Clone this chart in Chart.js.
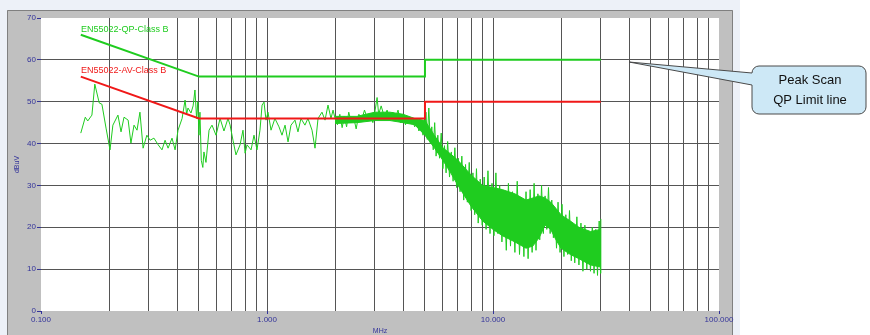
<!DOCTYPE html>
<html>
<head>
<meta charset="utf-8">
<script src="https://cdn.jsdelivr.net/npm/chart.js@4/dist/chart.umd.min.js"></script>
<style>
html, body { margin: 0; padding: 0; background: #fff; }
canvas { display: block; }
</style>
</head>
<body>
<canvas id="grafico_emi" width="870" height="335"></canvas>
<script>
// Limit lines (MHz / dBuV)
const limitFreq = [0.15, 0.5, 5, 5, 30]
const qpLimit = [66, 56, 56, 60, 60]
const avLimit = [56, 46, 46, 50, 50]

// Peak scan, 0.15 - 5 MHz
const scanFreqLow = [0.150, 0.157, 0.161, 0.168, 0.173, 0.181, 0.186, 0.194, 0.202, 0.208, 0.219, 0.226, 0.233, 0.243, 0.250, 0.258, 0.266, 0.274, 0.283, 0.294, 0.304, 0.316, 0.330, 0.343, 0.354, 0.365, 0.380, 0.392, 0.404, 0.421, 0.434, 0.441, 0.447, 0.461, 0.471, 0.480, 0.488, 0.494, 0.500, 0.505, 0.512, 0.520, 0.526, 0.537, 0.554, 0.571, 0.595, 0.620, 0.645, 0.672, 0.686, 0.707, 0.729, 0.760, 0.783, 0.800, 0.816, 0.850, 0.876, 0.903, 0.931, 0.951, 0.970, 0.990, 1.010, 1.042, 1.084, 1.130, 1.165, 1.202, 1.239, 1.277, 1.330, 1.371, 1.413, 1.472, 1.518, 1.582, 1.631, 1.682, 1.751, 1.806, 1.862, 1.919, 1.960, 2.000, 2.05, 2.1, 2.15, 2.2, 2.25, 2.3, 2.36, 2.42, 2.48, 2.55, 2.62, 2.7, 2.78, 2.86, 2.94, 3.02, 3.07, 3.12, 3.2, 3.3, 3.4, 3.5, 3.6, 3.7, 3.8, 3.9, 4.0, 4.1, 4.2, 4.3, 4.4, 4.5, 4.6, 4.7, 4.8, 4.9, 5.0]
const scanLevelLow = [42.5, 46.3, 45.4, 46.8, 54.2, 49.7, 49.4, 43.7, 38.5, 44.4, 46.8, 42.8, 46.3, 45.6, 40.1, 44.4, 43.2, 47.5, 38.9, 42.0, 40.8, 41.3, 39.7, 38.5, 40.8, 38.9, 41.3, 38.5, 43.2, 46.0, 50.4, 47.0, 48.5, 47.3, 49.0, 52.8, 46.0, 50.0, 42.0, 47.5, 36.0, 34.3, 38.0, 35.5, 43.2, 44.4, 42.0, 46.0, 43.0, 46.0, 44.5, 40.8, 37.3, 39.7, 43.2, 37.7, 39.7, 38.5, 42.0, 38.5, 43.2, 49.2, 49.9, 45.6, 47.5, 43.2, 46.0, 44.0, 42.0, 44.4, 40.4, 44.4, 45.6, 42.8, 46.0, 44.4, 46.0, 43.2, 38.9, 46.0, 47.5, 45.6, 49.2, 46.0, 48.0, 46.0, 44.5, 47, 43.8, 46.5, 44, 47.5, 45, 46.2, 43.5, 47, 45.5, 48, 46, 47.2, 45, 48.5, 51, 47, 49, 46.5, 48, 45.5, 47.5, 46, 48, 45, 47, 44.5, 46.5, 45, 46, 44, 45.5, 43, 44.5, 42, 43.5]

// Peak scan, 5 - 30 MHz (dense part, spike tops and bottoms)
const scanFreqHigh = [5.05, 5.12, 5.2, 5.28, 5.36, 5.44, 5.52, 5.6, 5.7, 5.8, 5.9, 6.0, 6.1, 6.2, 6.3, 6.42, 6.54, 6.66, 6.78, 6.9, 7.02, 7.15, 7.28, 7.42, 7.56, 7.7, 7.85, 8.0, 8.15, 8.3, 8.45, 8.6, 8.78, 8.96, 9.14, 9.32, 9.5, 9.7, 9.9, 10.1, 10.3, 10.5, 10.7, 10.95, 11.2, 11.45, 11.7, 11.95, 12.2, 12.5, 12.8, 13.1, 13.4, 13.7, 14.0, 14.3, 14.6, 14.9, 15.2, 15.5, 15.8, 16.1, 16.4, 16.7, 17.0, 17.3, 17.6, 17.9, 18.2, 18.5, 18.8, 19.1, 19.4, 19.8, 20.2, 20.6, 21.0, 21.4, 21.8, 22.2, 22.6, 23.0, 23.5, 24.0, 24.5, 25.0, 25.5, 26.0, 26.5, 27.0, 27.5, 28.0, 28.5, 29.0, 29.5, 29.9, 30.0]
const scanLevelHigh = [47.5, 41, 48.5, 40, 44, 38.5, 45, 37, 42, 36.5, 42.5, 34, 39.5, 33, 40.5, 32, 38, 31, 39, 29.5, 36.5, 28.5, 37, 26.5, 35, 26, 35.5, 24, 33, 23, 34, 21, 31.5, 20.5, 32, 19.5, 33.5, 18.5, 30.5, 18, 33, 18.5, 30, 16.5, 27.5, 14.5, 30.5, 15.5, 28.5, 14, 31, 13.5, 26, 13, 28.5, 12.5, 29, 14, 30.5, 14.5, 28, 17, 30, 18.5, 27.5, 19.5, 29.5, 18.5, 26.5, 17.5, 24, 15, 26, 14, 25.5, 13, 23, 13.5, 24, 12, 20, 11.5, 22.5, 11, 21, 9.5, 20.5, 10, 18.5, 9.5, 20, 9, 19.5, 8.5, 21.5, 9, 22]

// solid core of the dense parts
const bandFreq = [2.0, 2.5, 3.0, 3.5, 4.0, 4.5, 5, 5.5, 6, 6.5, 7, 8, 9, 10, 11, 12.5, 14, 15, 16, 17, 18, 19, 20, 22, 24, 27, 30]
const bandTop = [46.5, 46.5, 47.5, 47.5, 47, 46, 45.5, 42, 39, 37.5, 36, 32.5, 30, 29.5, 29, 28, 26.5, 27, 27.5, 27, 26, 24.5, 23, 21.5, 20, 19, 19.5]
const bandBottom = [44.8, 45, 45.5, 45.5, 45, 44.5, 42, 39, 36, 33, 30, 25, 21.5, 19.5, 18, 16.5, 15, 15.5, 17.5, 20.5, 19.5, 17, 15, 13.5, 12.5, 11, 10.5]

const xTicks = [0.1, 0.2, 0.3, 0.4, 0.5, 0.6, 0.7, 0.8, 0.9, 1, 2, 3, 4, 5, 6, 7, 8, 9, 10, 20, 30, 40, 50, 60, 70, 80, 90, 100]
const xLabels = [0.1, 1, 10, 100]

const verde = '#1fcc1f'
const vermelho = '#f01818'
const azul = '#33339a'
const grade = '#555555'

const pts = (xs, ys) => xs.map((x, i) => ({ x, y: ys[i] }))

const fundo = {
    id: 'fundo',
    beforeDraw(chart) {
        const c = chart.ctx, a = chart.chartArea
        c.save()
        c.fillStyle = '#edf1f8'
        c.fillRect(0, 0, 740, 335)
        c.fillStyle = '#c0c0c0'
        c.fillRect(7, 10, 726, 325)
        c.strokeStyle = '#808080'
        c.lineWidth = 1
        c.beginPath()
        c.moveTo(7.5, 335); c.lineTo(7.5, 10.5); c.lineTo(732.5, 10.5); c.lineTo(732.5, 335)
        c.stroke()
        c.fillStyle = '#fff'
        c.fillRect(a.left, a.top, a.right - a.left, a.bottom - a.top)
        c.restore()
    },
    afterDraw(chart) {
        const c = chart.ctx
        c.save()
        c.font = '9px Arial, "Liberation Sans"'
        c.textBaseline = 'middle'
        c.fillStyle = verde
        c.fillText('EN55022-QP-Class B', 81, 30)
        c.fillStyle = vermelho
        c.fillText('EN55022-AV-Class B', 81, 71)

        // balão
        const l = 752, r = 866, t = 66, b = 114, rad = 7
        c.beginPath()
        c.moveTo(l + rad, t)
        c.lineTo(r - rad, t)
        c.arcTo(r, t, r, t + rad, rad)
        c.lineTo(r, b - rad)
        c.arcTo(r, b, r - rad, b, rad)
        c.lineTo(l + rad, b)
        c.arcTo(l, b, l, b - rad, rad)
        c.lineTo(l, 85)
        c.lineTo(629, 62)
        c.lineTo(l, 73)
        c.lineTo(l, t + rad)
        c.arcTo(l, t, l + rad, t, rad)
        c.closePath()
        c.fillStyle = '#cde8f6'
        c.fill()
        c.strokeStyle = '#4a4a4a'
        c.lineWidth = 1
        c.stroke()
        c.fillStyle = '#111'
        c.font = '13px Arial, "Liberation Sans"'
        c.textAlign = 'center'
        c.fillText('Peak Scan', 810, 80)
        c.fillText('QP Limit line', 810, 100)
        c.restore()
    }
}

const data = {
    datasets: [
        { data: pts(limitFreq, qpLimit), borderColor: verde, borderWidth: 2, order: 0 },
        { data: pts(limitFreq, avLimit), borderColor: vermelho, borderWidth: 2, order: 0 },
        { data: pts(scanFreqLow, scanLevelLow).concat(pts(scanFreqHigh, scanLevelHigh)), borderColor: verde, borderWidth: 1, order: 1 },
        { data: pts(bandFreq, bandTop), borderColor: verde, borderWidth: 1, order: 2 },
        { data: pts(bandFreq, bandBottom), borderColor: verde, borderWidth: 1, backgroundColor: verde, fill: '-1', order: 2 }
    ]
}

const config = {
    type: 'line',
    data,
    options: {
        responsive: false,
        animation: false,
        events: [],
        layout: { padding: { left: 0, top: 18, right: 151, bottom: 0 } },
        elements: { point: { radius: 0 }, line: { tension: 0 } },
        plugins: { legend: { display: false }, tooltip: { enabled: false } },
        scales: {
            x: {
                type: 'logarithmic',
                min: 0.1,
                max: 100,
                afterBuildTicks: s => { s.ticks = xTicks.map(v => ({ value: v })) },
                afterFit: s => { s.height = 24 },
                border: { display: false },
                grid: {
                    color: c => (c.tick && (c.tick.value === 0.1 || c.tick.value === 100)) ? 'rgba(0,0,0,0)' : grade,
                    tickColor: c => (c.tick && xLabels.includes(c.tick.value)) ? azul : 'rgba(0,0,0,0)',
                    tickLength: 3
                },
                ticks: {
                    autoSkip: false,
                    maxRotation: 0,
                    padding: 1,
                    color: azul,
                    font: { size: 8, family: 'Arial, "Liberation Sans"' },
                    callback: v => xLabels.includes(v) ? v.toFixed(3) : ''
                },
                title: { display: true, text: 'MHz', color: azul, padding: 0, font: { size: 7, family: 'Arial, "Liberation Sans"' } }
            },
            y: {
                min: 0,
                max: 70,
                afterFit: s => { s.width = 41 },
                border: { display: false },
                grid: {
                    color: c => (c.tick && (c.tick.value === 0 || c.tick.value === 70)) ? 'rgba(0,0,0,0)' : grade,
                    tickColor: azul,
                    tickLength: 4
                },
                ticks: {
                    stepSize: 10,
                    padding: 1,
                    color: azul,
                    font: { size: 8, family: 'Arial, "Liberation Sans"' }
                },
                title: { display: true, text: 'dBuV', color: azul, padding: { top: 13, bottom: 0 }, font: { size: 7, family: 'Arial, "Liberation Sans"' } }
            }
        }
    },
    plugins: [fundo]
}

const graph = new Chart(document.getElementById('grafico_emi'), config)
</script>
</body>
</html>
